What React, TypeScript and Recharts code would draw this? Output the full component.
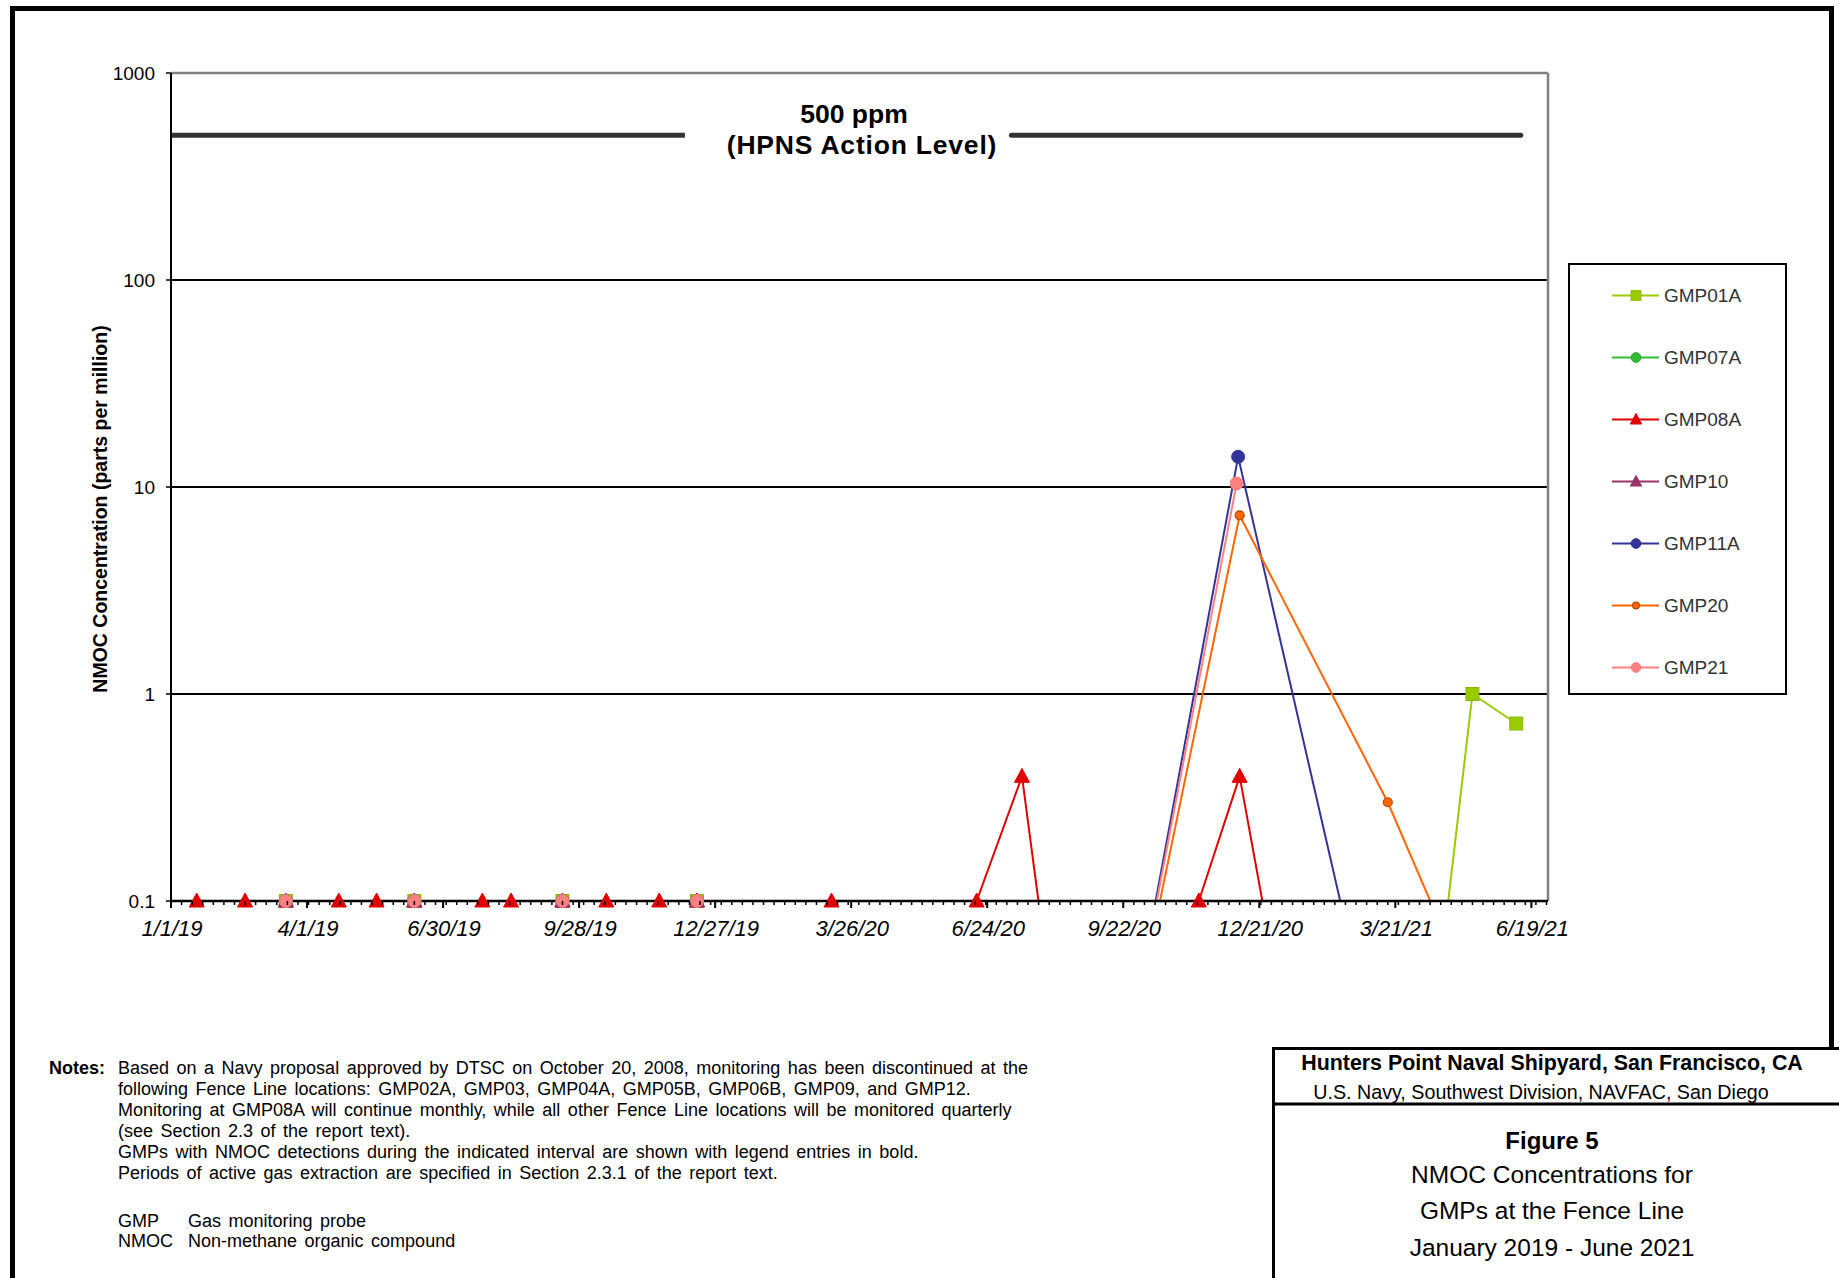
import React from 'react';
import { LineChart, Line, XAxis, YAxis, CartesianGrid, ReferenceLine } from 'recharts';

const FONT = '"Liberation Sans", Arial, Helvetica, sans-serif';

// ---------- axis definitions ----------
const X_DOMAIN = ['1/1/19', '6/30/21'];
const X_MAJOR_LABELS = ['1/1/19', '4/1/19', '6/30/19', '9/28/19', '12/27/19', '3/26/20', '6/24/20', '9/22/20', '12/21/20', '3/21/21', '6/19/21'];
const X_MINOR_STEP_DAYS = 7;
const Y_TICKS = [0.1, 1, 10, 100, 1000];
const Y_DOMAIN = [0.1, 1000];

// ---------- action level ----------
const ACTION_LEVEL = 500;
const ACTION_LINE_LEFT = ['1/1/19', '12/7/19'];
const ACTION_LINE_RIGHT = ['7/10/20', '6/12/21'];

// ---------- series data: [date, ppm] (null = gap) ----------
type Pt = [string, number | null];
const GMP01A: Pt[] = [
  ['12/12/18', 0.1], ['3/18/19', 0.1], ['6/11/19', 0.1], ['9/17/19', 0.1], ['12/15/19', 0.1],
  ['3/16/20', null], ['4/9/21', 0.01], ['5/11/21', 1.0], ['6/9/21', 0.72],
];
const GMP07A: Pt[] = [
  ['12/12/18', 0.1], ['3/18/19', 0.1], ['6/11/19', 0.1], ['9/17/19', 0.1], ['12/15/19', 0.1],
];
const GMP08A: Pt[] = [
  ['12/12/18', 0.1], ['1/18/19', 0.1], ['2/19/19', 0.1], ['3/18/19', 0.1], ['4/22/19', 0.1], ['5/17/19', 0.1],
  ['6/11/19', 0.1], ['7/26/19', 0.1], ['8/14/19', 0.1], ['9/17/19', 0.1], ['10/16/19', 0.1], ['11/20/19', 0.1],
  ['12/15/19', 0.1], ['1/15/20', null], ['3/13/20', 0.1], ['4/15/20', null], ['6/17/20', 0.1], ['7/17/20', 0.4],
  ['8/15/20', 0.01], ['9/15/20', null], ['11/11/20', 0.1], ['12/8/20', 0.4], ['1/17/21', 0.01],
];
const GMP10: Pt[] = [
  ['12/12/18', 0.1], ['3/18/19', 0.1], ['6/11/19', 0.1], ['9/17/19', 0.1], ['12/15/19', 0.1],
];
const GMP11A: Pt[] = [
  ['12/12/18', 0.1], ['3/18/19', 0.1], ['6/11/19', 0.1], ['9/17/19', 0.1], ['12/15/19', 0.1],
  ['3/16/20', null], ['9/18/20', 0.01], ['12/7/20', 14], ['3/16/21', 0.01],
];
const GMP20: Pt[] = [
  ['12/12/18', 0.1], ['3/18/19', 0.1], ['6/11/19', 0.1], ['9/17/19', 0.1], ['12/15/19', 0.1],
  ['3/16/20', null], ['9/18/20', 0.01], ['12/8/20', 7.3], ['3/16/21', 0.3], ['6/11/21', 0.01],
];
const GMP21: Pt[] = [
  ['12/12/18', 0.1], ['3/18/19', 0.1], ['6/11/19', 0.1], ['9/17/19', 0.1], ['12/15/19', 0.1],
  ['3/16/20', null], ['9/18/20', 0.01], ['12/6/20', 10.4],
];

const SERIES = [
  { name: 'GMP01A', color: '#99cc00', edge: '#8ab800', marker: 'square', data: GMP01A },
  { name: 'GMP07A', color: '#33bb33', edge: '#2aa52a', marker: 'circle', data: GMP07A },
  { name: 'GMP08A', color: '#e00000', edge: '#e00000', marker: 'triangle', data: GMP08A },
  { name: 'GMP10', color: '#993366', edge: '#993366', marker: 'triangle', data: GMP10 },
  { name: 'GMP11A', color: '#333399', edge: '#333399', marker: 'circle', data: GMP11A },
  { name: 'GMP20', color: '#ff6600', edge: '#b34700', marker: 'small', data: GMP20 },
  { name: 'GMP21', color: '#ff8080', edge: '#ff8080', marker: 'circle', data: GMP21 },
];

// ---------- text ----------
const Y_LABEL = 'NMOC Concentration  (parts per million)';
const ACTION_TEXT = ['500 ppm', '(HPNS Action Level)'];
const NOTES = [
  'Based on a Navy proposal approved  by DTSC on October 20, 2008, monitoring has been discontinued  at the',
  'following Fence Line locations: GMP02A, GMP03, GMP04A, GMP05B, GMP06B, GMP09, and GMP12.',
  'Monitoring at GMP08A will continue monthly, while all other  Fence Line locations will be monitored quarterly',
  '(see Section 2.3 of the report text).',
  'GMPs with NMOC detections  during  the indicated interval are shown with legend entries in bold.',
  'Periods of active gas extraction are specified in Section 2.3.1 of the report text.',
];
const ABBREV = [['GMP', 'Gas monitoring probe'], ['NMOC', 'Non-methane  organic compound']];
const TITLE_HEAD = ['Hunters Point Naval Shipyard, San Francisco, CA', 'U.S. Navy, Southwest Division, NAVFAC, San Diego'];
const TITLE_BODY = ['Figure 5', 'NMOC Concentrations for', 'GMPs at the Fence Line', 'January 2019 - June 2021'];

// ---------- helpers ----------
const toDay = (s: string) => {
  const [m, d, y] = s.split('/').map(Number);
  return Date.UTC(2000 + y, m - 1, d) / 86400000;
};
const D0 = toDay(X_DOMAIN[0]);
const D1 = toDay(X_DOMAIN[1]);
const MAJOR_MAP = new Map<number, string>(X_MAJOR_LABELS.map((l) => [toDay(l), l]));
const X_TICKS = (() => {
  const set = new Set<number>(MAJOR_MAP.keys());
  for (let t = D0; t <= D1; t += X_MINOR_STEP_DAYS) set.add(t);
  return Array.from(set).sort((a, b) => a - b);
})();

const toRows = (pts: Pt[]) => pts.map(([d, v]) => ({ t: toDay(d), v }));
const inRange = (pts: Pt[]) =>
  toRows(pts).filter((r) => r.v != null && r.v >= Y_DOMAIN[0] && r.v <= Y_DOMAIN[1] && r.t >= D0 && r.t <= D1);

function MarkerShape({ type, cx, cy, color, edge, scale = 1 }: any) {
  if (cx == null || cy == null || isNaN(cx) || isNaN(cy)) return <g />;
  const s = scale;
  if (type === 'square') {
    const h = 6.5 * s;
    return <rect x={cx - h} y={cy - h} width={2 * h} height={2 * h} fill={color} stroke={edge} strokeWidth={1} />;
  }
  if (type === 'triangle') {
    const w = 7.5 * s;
    return (
      <polygon
        points={`${cx},${cy - 8 * s} ${cx - w},${cy + 6 * s} ${cx + w},${cy + 6 * s}`}
        fill={color}
        stroke={edge}
        strokeWidth={1}
      />
    );
  }
  if (type === 'small') {
    return <circle cx={cx} cy={cy} r={4.5 * s} fill={color} stroke={edge} strokeWidth={1.2} />;
  }
  return <circle cx={cx} cy={cy} r={6.5 * s} fill={color} stroke={edge} strokeWidth={1} />;
}

const XTick = (props: any) => {
  const { x, y, payload } = props;
  const label = MAJOR_MAP.get(payload.value);
  const major = label !== undefined;
  return (
    <g>
      <line x1={x} x2={x} y1={y} y2={y + (major ? 7 : 4)} stroke="#000" strokeWidth={major ? 2 : 1.5} />
      {major && (
        <text x={x + 1} y={y + 35} textAnchor="middle" fontSize={22} fontStyle="italic" fontFamily={FONT} fill="#000">
          {label}
        </text>
      )}
    </g>
  );
};

export default function App() {
  return (
    <div
      style={{
        position: 'absolute', left: 0, top: 0, width: 1839, height: 1278,
        overflow: 'hidden', background: '#fff', fontFamily: FONT,
      }}
    >
      <div style={{ position: 'absolute', left: 0, top: 0 }}>
        <LineChart width={1839} height={1278} margin={{ top: 73, right: 291, bottom: 337, left: 111 }}>
          <CartesianGrid vertical={false} stroke="#000" strokeWidth={2} />
          <XAxis
            type="number" dataKey="t" domain={[D0, D1]} allowDataOverflow ticks={X_TICKS} interval={0}
            height={40} tickLine={false} tickSize={0} tickMargin={0} tick={<XTick />}
            axisLine={{ stroke: '#000', strokeWidth: 2.5 }}
          />
          <YAxis
            type="number" scale="log" domain={Y_DOMAIN} allowDataOverflow ticks={Y_TICKS} interval={0}
            width={60} tickSize={5} tickMargin={11}
            axisLine={{ stroke: '#000', strokeWidth: 2 }} tickLine={{ stroke: '#000', strokeWidth: 1.5 }}
            tick={{ fill: '#000', fontSize: 19, fontFamily: FONT }}
          />
          <XAxis xAxisId="m" type="number" dataKey="t" domain={[D0, D1]} hide />
          <YAxis yAxisId="m" type="number" scale="log" domain={Y_DOMAIN} hide />
          <ReferenceLine y={Y_DOMAIN[1]} stroke="#808080" strokeWidth={2.5} />
          <ReferenceLine x={D1} stroke="#808080" strokeWidth={2.5} />
          <ReferenceLine
            segment={[{ x: toDay(ACTION_LINE_LEFT[0]), y: ACTION_LEVEL }, { x: toDay(ACTION_LINE_LEFT[1]), y: ACTION_LEVEL }]}
            stroke="#333" strokeWidth={5}
          />
          <ReferenceLine
            segment={[{ x: toDay(ACTION_LINE_RIGHT[0]), y: ACTION_LEVEL }, { x: toDay(ACTION_LINE_RIGHT[1]), y: ACTION_LEVEL }]}
            stroke="#333" strokeWidth={5} strokeLinecap="round"
          />
          {SERIES.map((s) => [
            <Line
              key={s.name + '-line'} data={toRows(s.data)} dataKey="v" name={s.name}
              stroke={s.color} strokeWidth={2} dot={false} activeDot={false}
              connectNulls={false} isAnimationActive={false}
            />,
            <Line
              key={s.name + '-marks'} xAxisId="m" yAxisId="m" data={inRange(s.data)} dataKey="v"
              stroke="none" legendType="none" activeDot={false} isAnimationActive={false}
              dot={(p: any) => (
                <MarkerShape key={`${s.name}-${p.index}`} type={s.marker} cx={p.cx} cy={p.cy} color={s.color} edge={s.edge} />
              )}
            />,
          ])}
        </LineChart>
      </div>

      <svg width={1839} height={1278} style={{ position: 'absolute', left: 0, top: 0, pointerEvents: 'none' }} fontFamily={FONT}>
        {/* outer frame */}
        <rect x={12.5} y={8.5} width={1819} height={1300} fill="none" stroke="#000" strokeWidth={5} />

        {/* y axis title */}
        <text x={100} y={509} transform="rotate(-90 100 509)" textAnchor="middle" dominantBaseline="central"
          fontSize={19.5} fontWeight="bold" fill="#000">{Y_LABEL}</text>

        {/* action level text */}
        <text x={854} y={114} textAnchor="middle" dominantBaseline="central" fontSize={26.5} fontWeight="bold" fill="#000">{ACTION_TEXT[0]}</text>
        <text x={862} y={145} textAnchor="middle" dominantBaseline="central" fontSize={26.5} fontWeight="bold" letterSpacing={0.8} fill="#000">{ACTION_TEXT[1]}</text>

        {/* legend */}
        <rect x={1569} y={264} width={217} height={430} fill="#fff" stroke="#000" strokeWidth={2} />
        {SERIES.map((s, i) => {
          const y = 295.5 + i * 62;
          return (
            <g key={s.name}>
              <line x1={1612} x2={1659} y1={y} y2={y} stroke={s.color} strokeWidth={2} />
              <MarkerShape type={s.marker} cx={1636} cy={y} color={s.color} edge={s.edge} scale={0.75} />
              <text x={1664} y={y} dominantBaseline="central" fontSize={19} fill="#333">{s.name}</text>
            </g>
          );
        })}

        {/* notes */}
        <text x={49} y={1068} dominantBaseline="central" fontSize={18} fontWeight="bold" fill="#000">Notes:</text>
        {NOTES.map((l, i) => (
          <text key={i} x={118} y={1068 + i * 21} dominantBaseline="central" fontSize={18} wordSpacing={2.5} fill="#000">{l}</text>
        ))}
        {ABBREV.map(([a, b], i) => (
          <g key={a}>
            <text x={118} y={1220.5 + i * 20.5} dominantBaseline="central" fontSize={18} fill="#000">{a}</text>
            <text x={188} y={1220.5 + i * 20.5} dominantBaseline="central" fontSize={18} wordSpacing={2.5} fill="#000">{b}</text>
          </g>
        ))}

        {/* title block */}
        <rect x={1273.5} y={1048.5} width={570} height={300} fill="#fff" stroke="#000" strokeWidth={3} />
        <line x1={1272} x2={1839} y1={1104} y2={1104} stroke="#000" strokeWidth={3} />
        <text x={1552} y={1063} textAnchor="middle" dominantBaseline="central" fontSize={21.4} fontWeight="bold" fill="#000">{TITLE_HEAD[0]}</text>
        <text x={1541} y={1092} textAnchor="middle" dominantBaseline="central" fontSize={19.7} fill="#000">{TITLE_HEAD[1]}</text>
        <text x={1552} y={1140} textAnchor="middle" dominantBaseline="central" fontSize={24} fontWeight="bold" fill="#000">{TITLE_BODY[0]}</text>
        <text x={1552} y={1174} textAnchor="middle" dominantBaseline="central" fontSize={24.5} fill="#000">{TITLE_BODY[1]}</text>
        <text x={1552} y={1210} textAnchor="middle" dominantBaseline="central" fontSize={24.5} fill="#000">{TITLE_BODY[2]}</text>
        <text x={1552} y={1247} textAnchor="middle" dominantBaseline="central" fontSize={24.5} fill="#000">{TITLE_BODY[3]}</text>
      </svg>
    </div>
  );
}
